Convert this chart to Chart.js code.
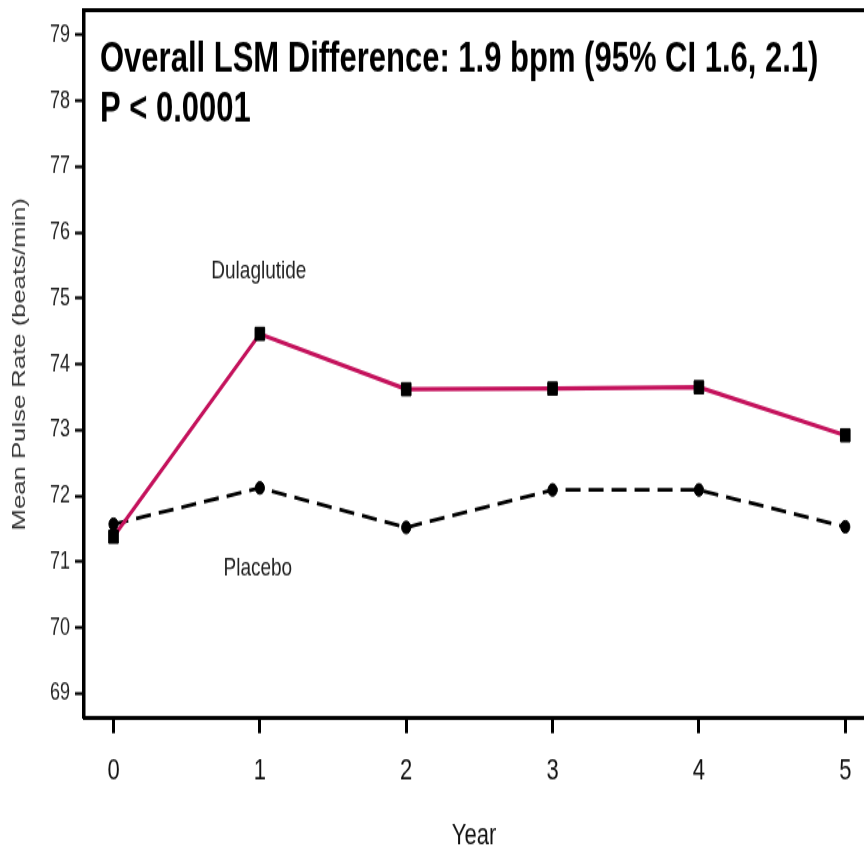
<!DOCTYPE html>
<html><head><meta charset="utf-8">
<script src="https://cdn.jsdelivr.net/npm/chart.js@4"></script>
<style>
html,body{margin:0;padding:0;background:#fff;overflow:hidden;width:864px;height:851px;}
#wrap{width:864px;height:630px;transform:scaleY(1.350794);transform-origin:0 0;}
canvas{display:block;}
</style></head><body>
<div id="wrap"><canvas id="c" width="864" height="630"></canvas></div>
<script>
const years = [0, 1, 2, 3, 4, 5];
const dulaglutide = [71.38, 74.46, 73.62, 73.63, 73.65, 72.92];
const placebo = [71.57, 72.12, 71.52, 72.09, 72.09, 71.53];
const yTicks = [69, 70, 71, 72, 73, 74, 75, 76, 77, 78, 79];
const seriesNames = ['Dulaglutide', 'Placebo'];
const titleLines = ['Overall LSM Difference: 1.9 bpm (95% CI 1.6, 2.1)', 'P < 0.0001'];
const xTitle = 'Year';
const yTitle = 'Mean Pulse Rate (beats/min)';

const annot = {
  id: 'annot',
  afterDraw(chart) {
    const {ctx, chartArea: a, scales: {x, y}} = chart;
    ctx.save();
    ctx.strokeStyle = '#000';
    ctx.lineWidth = 3;
    ctx.beginPath();
    ctx.moveTo(a.left - 1.75, a.top);
    ctx.lineTo(a.right, a.top);
    ctx.stroke();

    ctx.fillStyle = '#000';
    ctx.textAlign = 'left';
    ctx.textBaseline = 'alphabetic';
    ctx.font = 'bold 31px "Liberation Sans", Arial, sans-serif';
    ctx.fillText(titleLines[0], a.left + 16, a.top + 45.8);
    ctx.fillText(titleLines[1], a.left + 16, a.top + 82.7);

    ctx.fillStyle = '#222';
    ctx.textAlign = 'center';
    ctx.font = '19px "Liberation Sans", Arial, sans-serif';
    ctx.fillText(seriesNames[0], x.getPixelForValue(1) - 1, y.getPixelForValue(75.30));
    ctx.fillText(seriesNames[1], x.getPixelForValue(1) - 2, y.getPixelForValue(70.80));
    ctx.restore();
  }
};

new Chart(document.getElementById('c'), {
  type: 'line',
  data: {
    datasets: [
      {
        label: seriesNames[0],
        data: years.map((v, i) => ({x: v, y: dulaglutide[i]})),
        borderColor: '#C4125C',
        borderWidth: 3.2,
        pointStyle: 'rect',
        pointRadius: 6.8,
        pointBackgroundColor: '#000',
        pointBorderColor: '#000',
        pointBorderWidth: 1,
        tension: 0,
        fill: false
      },
      {
        label: seriesNames[1],
        data: years.map((v, i) => ({x: v, y: placebo[i]})),
        borderColor: '#000',
        borderWidth: 2.8,
        borderDash: [15, 8],
        pointStyle: 'circle',
        pointRadius: 4.6,
        pointBackgroundColor: '#000',
        pointBorderColor: '#000',
        pointBorderWidth: 1,
        tension: 0,
        fill: false
      }
    ]
  },
  options: {
    responsive: false,
    animation: false,
    devicePixelRatio: 1,
    layout: {autoPadding: false, padding: {top: 7.4, left: 0, right: 0, bottom: 0}},
    plugins: {legend: {display: false}, tooltip: {enabled: false}},
    scales: {
      x: {
        type: 'linear',
        min: -0.2016,
        max: 5.128,
        afterBuildTicks: s => { s.ticks = years.map(v => ({value: v})); },
        afterFit: s => { s.height = 98.2; s.paddingLeft = 0; s.paddingRight = 0; },
        grid: {drawOnChartArea: false, drawTicks: true, tickLength: 11, tickWidth: 3, tickColor: '#000'},
        border: {display: true, color: '#000', width: 3},
        ticks: {color: '#111', font: {family: 'Liberation Sans', size: 22}, padding: 15.3, maxRotation: 0, autoSkip: false},
        title: {display: true, text: xTitle, color: '#111', font: {family: 'Liberation Sans', size: 22}, padding: {top: 0, bottom: -1.9}}
      },
      y: {
        min: 68.62,
        max: 79.38,
        afterBuildTicks: s => { s.ticks = yTicks.map(v => ({value: v})); },
        afterFit: s => { s.width = 84; s.paddingTop = 0; s.paddingBottom = 0; },
        grid: {drawOnChartArea: false, drawTicks: true, tickLength: 9, tickWidth: 2.2, tickColor: '#000'},
        border: {display: true, color: '#000', width: 3.5},
        ticks: {color: '#222', font: {family: 'Liberation Sans', size: 18}, padding: 5, autoSkip: false},
        title: {display: true, text: yTitle, color: '#333', font: {family: 'Liberation Sans', size: 19}, padding: {top: 8.6, bottom: 0}}
      }
    }
  },
  plugins: [annot]
});
</script>
</body></html>
